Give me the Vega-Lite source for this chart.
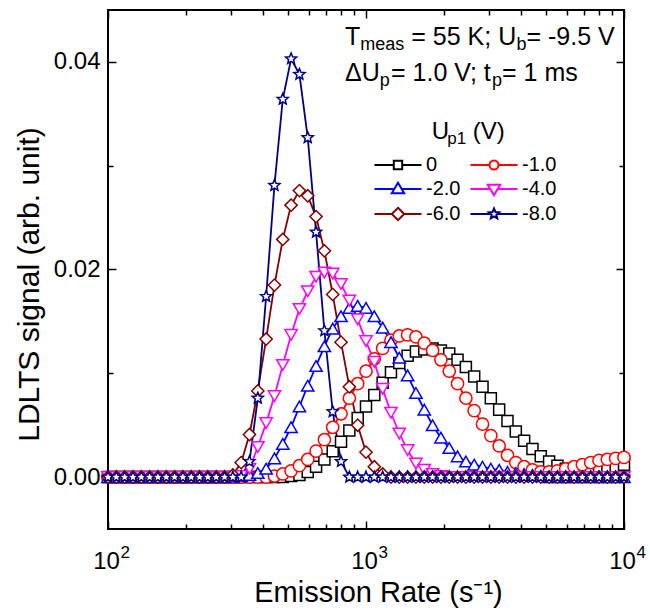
{
"$schema": "https://vega.github.io/schema/vega-lite/v6.json",
"width": 516, "height": 519,
"autosize": {"type": "none"},
"padding": {"left": 108, "top": 10, "right": 26, "bottom": 83},
"background": "white",
"config": {
 "view": {"stroke": "black", "strokeWidth": 2},
 "font": "Liberation Sans",
 "axis": {"grid": false, "domain": false, "labelFont": "Liberation Sans", "titleFont": "Liberation Sans", "labelColor": "black", "titleColor": "black", "tickColor": "black", "tickWidth": 1.5, "titleFontWeight": "normal"},
 "legend": {"orient": "none", "direction": "horizontal", "legendX": 279, "legendY": 144, "columns": 2, "columnPadding": 5, "rowPadding": 3, "padding": 0, "symbolSize": 400, "symbolStrokeWidth": 2, "labelFont": "Liberation Sans", "labelFontSize": 20, "labelColor": "black", "labelOffset": 17, "labelLimit": 0}
},
"datasets": {"curves": [
{"Up":"0","rate":100,"signal":0},{"Up":"0","rate":107.71,"signal":0},{"Up":"0","rate":116.02,"signal":0},{"Up":"0","rate":124.96,"signal":0},{"Up":"0","rate":134.6,"signal":0},{"Up":"0","rate":144.98,"signal":0},{"Up":"0","rate":156.16,"signal":0},{"Up":"0","rate":168.2,"signal":0},{"Up":"0","rate":181.16,"signal":0},{"Up":"0","rate":195.13,"signal":0},{"Up":"0","rate":210.17,"signal":0},{"Up":"0","rate":226.38,"signal":0},{"Up":"0","rate":243.83,"signal":0},{"Up":"0","rate":262.63,"signal":0},{"Up":"0","rate":282.89,"signal":0},{"Up":"0","rate":304.7,"signal":0},{"Up":"0","rate":328.19,"signal":0},{"Up":"0","rate":353.5,"signal":0},{"Up":"0","rate":380.75,"signal":0},{"Up":"0","rate":410.11,"signal":0},{"Up":"0","rate":441.73,"signal":0},{"Up":"0","rate":475.8,"signal":0},{"Up":"0","rate":512.48,"signal":0.0001},{"Up":"0","rate":552,"signal":0.0002},{"Up":"0","rate":594.56,"signal":0.0005},{"Up":"0","rate":640.4,"signal":0.001},{"Up":"0","rate":689.78,"signal":0.0017},{"Up":"0","rate":742.96,"signal":0.0025},{"Up":"0","rate":800.24,"signal":0.0034},{"Up":"0","rate":861.95,"signal":0.0045},{"Up":"0","rate":928.41,"signal":0.0057},{"Up":"0","rate":1000,"signal":0.0068},{"Up":"0","rate":1077.1,"signal":0.0079},{"Up":"0","rate":1160.16,"signal":0.0091},{"Up":"0","rate":1249.61,"signal":0.0101},{"Up":"0","rate":1345.96,"signal":0.011},{"Up":"0","rate":1449.77,"signal":0.0117},{"Up":"0","rate":1561.55,"signal":0.0121},{"Up":"0","rate":1681.95,"signal":0.0123},{"Up":"0","rate":1811.61,"signal":0.0124},{"Up":"0","rate":1951.29,"signal":0.0122},{"Up":"0","rate":2101.74,"signal":0.0119},{"Up":"0","rate":2263.78,"signal":0.0113},{"Up":"0","rate":2438.34,"signal":0.0106},{"Up":"0","rate":2626.34,"signal":0.0097},{"Up":"0","rate":2828.88,"signal":0.0087},{"Up":"0","rate":3047,"signal":0.0076},{"Up":"0","rate":3281.92,"signal":0.0065},{"Up":"0","rate":3534.97,"signal":0.0054},{"Up":"0","rate":3807.53,"signal":0.0044},{"Up":"0","rate":4101.12,"signal":0.0035},{"Up":"0","rate":4417.34,"signal":0.0027},{"Up":"0","rate":4757.95,"signal":0.002},{"Up":"0","rate":5124.8,"signal":0.0015},{"Up":"0","rate":5519.95,"signal":0.0011},{"Up":"0","rate":5945.55,"signal":0.0008},{"Up":"0","rate":6403.98,"signal":0.0006},{"Up":"0","rate":6897.75,"signal":0.0005},{"Up":"0","rate":7429.57,"signal":0.0005},{"Up":"0","rate":8002.43,"signal":0.0006},{"Up":"0","rate":8619.45,"signal":0.0008},{"Up":"0","rate":9284.05,"signal":0.001},{"Up":"0","rate":10000,"signal":0.0012},
{"Up":"-1.0","rate":100,"signal":0},{"Up":"-1.0","rate":107.71,"signal":0},{"Up":"-1.0","rate":116.02,"signal":0},{"Up":"-1.0","rate":124.96,"signal":0},{"Up":"-1.0","rate":134.6,"signal":0},{"Up":"-1.0","rate":144.98,"signal":0},{"Up":"-1.0","rate":156.16,"signal":0},{"Up":"-1.0","rate":168.2,"signal":0},{"Up":"-1.0","rate":181.16,"signal":0},{"Up":"-1.0","rate":195.13,"signal":0},{"Up":"-1.0","rate":210.17,"signal":0},{"Up":"-1.0","rate":226.38,"signal":0},{"Up":"-1.0","rate":243.83,"signal":0},{"Up":"-1.0","rate":262.63,"signal":0},{"Up":"-1.0","rate":282.89,"signal":0},{"Up":"-1.0","rate":304.7,"signal":0},{"Up":"-1.0","rate":328.19,"signal":0},{"Up":"-1.0","rate":353.5,"signal":0},{"Up":"-1.0","rate":380.75,"signal":0},{"Up":"-1.0","rate":410.11,"signal":0},{"Up":"-1.0","rate":441.73,"signal":0.0001},{"Up":"-1.0","rate":475.8,"signal":0.0003},{"Up":"-1.0","rate":512.48,"signal":0.0006},{"Up":"-1.0","rate":552,"signal":0.0011},{"Up":"-1.0","rate":594.56,"signal":0.0017},{"Up":"-1.0","rate":640.4,"signal":0.0025},{"Up":"-1.0","rate":689.78,"signal":0.0036},{"Up":"-1.0","rate":742.96,"signal":0.0048},{"Up":"-1.0","rate":800.24,"signal":0.0061},{"Up":"-1.0","rate":861.95,"signal":0.0076},{"Up":"-1.0","rate":928.41,"signal":0.009},{"Up":"-1.0","rate":1000,"signal":0.0102},{"Up":"-1.0","rate":1077.1,"signal":0.0114},{"Up":"-1.0","rate":1160.16,"signal":0.0124},{"Up":"-1.0","rate":1249.61,"signal":0.0132},{"Up":"-1.0","rate":1345.96,"signal":0.0136},{"Up":"-1.0","rate":1449.77,"signal":0.0137},{"Up":"-1.0","rate":1561.55,"signal":0.0135},{"Up":"-1.0","rate":1681.95,"signal":0.0129},{"Up":"-1.0","rate":1811.61,"signal":0.0122},{"Up":"-1.0","rate":1951.29,"signal":0.0113},{"Up":"-1.0","rate":2101.74,"signal":0.0102},{"Up":"-1.0","rate":2263.78,"signal":0.009},{"Up":"-1.0","rate":2438.34,"signal":0.0076},{"Up":"-1.0","rate":2626.34,"signal":0.0064},{"Up":"-1.0","rate":2828.88,"signal":0.0051},{"Up":"-1.0","rate":3047,"signal":0.004},{"Up":"-1.0","rate":3281.92,"signal":0.003},{"Up":"-1.0","rate":3534.97,"signal":0.0021},{"Up":"-1.0","rate":3807.53,"signal":0.0014},{"Up":"-1.0","rate":4101.12,"signal":0.001},{"Up":"-1.0","rate":4417.34,"signal":0.0007},{"Up":"-1.0","rate":4757.95,"signal":0.0005},{"Up":"-1.0","rate":5124.8,"signal":0.0005},{"Up":"-1.0","rate":5519.95,"signal":0.0006},{"Up":"-1.0","rate":5945.55,"signal":0.0008},{"Up":"-1.0","rate":6403.98,"signal":0.001},{"Up":"-1.0","rate":6897.75,"signal":0.0012},{"Up":"-1.0","rate":7429.57,"signal":0.0014},{"Up":"-1.0","rate":8002.43,"signal":0.0016},{"Up":"-1.0","rate":8619.45,"signal":0.0017},{"Up":"-1.0","rate":9284.05,"signal":0.0018},{"Up":"-1.0","rate":10000,"signal":0.0019},
{"Up":"-2.0","rate":100,"signal":0},{"Up":"-2.0","rate":107.71,"signal":0},{"Up":"-2.0","rate":116.02,"signal":0},{"Up":"-2.0","rate":124.96,"signal":0},{"Up":"-2.0","rate":134.6,"signal":0},{"Up":"-2.0","rate":144.98,"signal":0},{"Up":"-2.0","rate":156.16,"signal":0},{"Up":"-2.0","rate":168.2,"signal":0},{"Up":"-2.0","rate":181.16,"signal":0},{"Up":"-2.0","rate":195.13,"signal":0},{"Up":"-2.0","rate":210.17,"signal":0},{"Up":"-2.0","rate":226.38,"signal":0},{"Up":"-2.0","rate":243.83,"signal":0},{"Up":"-2.0","rate":262.63,"signal":0},{"Up":"-2.0","rate":282.89,"signal":0},{"Up":"-2.0","rate":304.7,"signal":0},{"Up":"-2.0","rate":328.19,"signal":0.0001},{"Up":"-2.0","rate":353.5,"signal":0.0002},{"Up":"-2.0","rate":380.75,"signal":0.0004},{"Up":"-2.0","rate":410.11,"signal":0.0008},{"Up":"-2.0","rate":441.73,"signal":0.0018},{"Up":"-2.0","rate":475.8,"signal":0.0032},{"Up":"-2.0","rate":512.48,"signal":0.0048},{"Up":"-2.0","rate":552,"signal":0.0068},{"Up":"-2.0","rate":594.56,"signal":0.0088},{"Up":"-2.0","rate":640.4,"signal":0.0107},{"Up":"-2.0","rate":689.78,"signal":0.0126},{"Up":"-2.0","rate":742.96,"signal":0.0143},{"Up":"-2.0","rate":800.24,"signal":0.0155},{"Up":"-2.0","rate":861.95,"signal":0.0163},{"Up":"-2.0","rate":928.41,"signal":0.0165},{"Up":"-2.0","rate":1000,"signal":0.0163},{"Up":"-2.0","rate":1077.1,"signal":0.0155},{"Up":"-2.0","rate":1160.16,"signal":0.0144},{"Up":"-2.0","rate":1249.61,"signal":0.013},{"Up":"-2.0","rate":1345.96,"signal":0.0115},{"Up":"-2.0","rate":1449.77,"signal":0.0098},{"Up":"-2.0","rate":1561.55,"signal":0.0081},{"Up":"-2.0","rate":1681.95,"signal":0.0065},{"Up":"-2.0","rate":1811.61,"signal":0.005},{"Up":"-2.0","rate":1951.29,"signal":0.0038},{"Up":"-2.0","rate":2101.74,"signal":0.0028},{"Up":"-2.0","rate":2263.78,"signal":0.002},{"Up":"-2.0","rate":2438.34,"signal":0.0015},{"Up":"-2.0","rate":2626.34,"signal":0.0012},{"Up":"-2.0","rate":2828.88,"signal":0.001},{"Up":"-2.0","rate":3047,"signal":0.0008},{"Up":"-2.0","rate":3281.92,"signal":0.0007},{"Up":"-2.0","rate":3534.97,"signal":0.0005},{"Up":"-2.0","rate":3807.53,"signal":0.0004},{"Up":"-2.0","rate":4101.12,"signal":0.0003},{"Up":"-2.0","rate":4417.34,"signal":0.0002},{"Up":"-2.0","rate":4757.95,"signal":0.0001},{"Up":"-2.0","rate":5124.8,"signal":0},{"Up":"-2.0","rate":5519.95,"signal":0},{"Up":"-2.0","rate":5945.55,"signal":0},{"Up":"-2.0","rate":6403.98,"signal":0},{"Up":"-2.0","rate":6897.75,"signal":0},{"Up":"-2.0","rate":7429.57,"signal":0},{"Up":"-2.0","rate":8002.43,"signal":0},{"Up":"-2.0","rate":8619.45,"signal":0},{"Up":"-2.0","rate":9284.05,"signal":0},{"Up":"-2.0","rate":10000,"signal":0},
{"Up":"-4.0","rate":100,"signal":0},{"Up":"-4.0","rate":107.71,"signal":0},{"Up":"-4.0","rate":116.02,"signal":0},{"Up":"-4.0","rate":124.96,"signal":0},{"Up":"-4.0","rate":134.6,"signal":0},{"Up":"-4.0","rate":144.98,"signal":0},{"Up":"-4.0","rate":156.16,"signal":0},{"Up":"-4.0","rate":168.2,"signal":0},{"Up":"-4.0","rate":181.16,"signal":0},{"Up":"-4.0","rate":195.13,"signal":0},{"Up":"-4.0","rate":210.17,"signal":0},{"Up":"-4.0","rate":226.38,"signal":0},{"Up":"-4.0","rate":243.83,"signal":0},{"Up":"-4.0","rate":262.63,"signal":0},{"Up":"-4.0","rate":282.89,"signal":0},{"Up":"-4.0","rate":304.7,"signal":0},{"Up":"-4.0","rate":328.19,"signal":0.0001},{"Up":"-4.0","rate":353.5,"signal":0.0008},{"Up":"-4.0","rate":380.75,"signal":0.0029},{"Up":"-4.0","rate":410.11,"signal":0.0052},{"Up":"-4.0","rate":441.73,"signal":0.0078},{"Up":"-4.0","rate":475.8,"signal":0.0108},{"Up":"-4.0","rate":512.48,"signal":0.0137},{"Up":"-4.0","rate":552,"signal":0.0162},{"Up":"-4.0","rate":594.56,"signal":0.0179},{"Up":"-4.0","rate":640.4,"signal":0.0193},{"Up":"-4.0","rate":689.78,"signal":0.0197},{"Up":"-4.0","rate":742.96,"signal":0.0196},{"Up":"-4.0","rate":800.24,"signal":0.0186},{"Up":"-4.0","rate":861.95,"signal":0.017},{"Up":"-4.0","rate":928.41,"signal":0.0152},{"Up":"-4.0","rate":1000,"signal":0.0131},{"Up":"-4.0","rate":1077.1,"signal":0.0111},{"Up":"-4.0","rate":1160.16,"signal":0.0085},{"Up":"-4.0","rate":1249.61,"signal":0.0062},{"Up":"-4.0","rate":1345.96,"signal":0.0042},{"Up":"-4.0","rate":1449.77,"signal":0.0026},{"Up":"-4.0","rate":1561.55,"signal":0.0013},{"Up":"-4.0","rate":1681.95,"signal":0.0007},{"Up":"-4.0","rate":1811.61,"signal":0.0003},{"Up":"-4.0","rate":1951.29,"signal":0.0001},{"Up":"-4.0","rate":2101.74,"signal":0},{"Up":"-4.0","rate":2263.78,"signal":0},{"Up":"-4.0","rate":2438.34,"signal":0},{"Up":"-4.0","rate":2626.34,"signal":0},{"Up":"-4.0","rate":2828.88,"signal":0},{"Up":"-4.0","rate":3047,"signal":0},{"Up":"-4.0","rate":3281.92,"signal":0},{"Up":"-4.0","rate":3534.97,"signal":0},{"Up":"-4.0","rate":3807.53,"signal":0},{"Up":"-4.0","rate":4101.12,"signal":0},{"Up":"-4.0","rate":4417.34,"signal":0},{"Up":"-4.0","rate":4757.95,"signal":0},{"Up":"-4.0","rate":5124.8,"signal":0},{"Up":"-4.0","rate":5519.95,"signal":0},{"Up":"-4.0","rate":5945.55,"signal":0},{"Up":"-4.0","rate":6403.98,"signal":0},{"Up":"-4.0","rate":6897.75,"signal":0},{"Up":"-4.0","rate":7429.57,"signal":0},{"Up":"-4.0","rate":8002.43,"signal":0},{"Up":"-4.0","rate":8619.45,"signal":0},{"Up":"-4.0","rate":9284.05,"signal":0},{"Up":"-4.0","rate":10000,"signal":0},
{"Up":"-6.0","rate":100,"signal":0},{"Up":"-6.0","rate":107.71,"signal":0},{"Up":"-6.0","rate":116.02,"signal":0},{"Up":"-6.0","rate":124.96,"signal":0},{"Up":"-6.0","rate":134.6,"signal":0},{"Up":"-6.0","rate":144.98,"signal":0},{"Up":"-6.0","rate":156.16,"signal":0},{"Up":"-6.0","rate":168.2,"signal":0},{"Up":"-6.0","rate":181.16,"signal":0},{"Up":"-6.0","rate":195.13,"signal":0},{"Up":"-6.0","rate":210.17,"signal":0},{"Up":"-6.0","rate":226.38,"signal":0},{"Up":"-6.0","rate":243.83,"signal":0},{"Up":"-6.0","rate":262.63,"signal":0},{"Up":"-6.0","rate":282.89,"signal":0},{"Up":"-6.0","rate":304.7,"signal":0.0002},{"Up":"-6.0","rate":328.19,"signal":0.0014},{"Up":"-6.0","rate":353.5,"signal":0.0041},{"Up":"-6.0","rate":380.75,"signal":0.0083},{"Up":"-6.0","rate":410.11,"signal":0.0133},{"Up":"-6.0","rate":441.73,"signal":0.0185},{"Up":"-6.0","rate":475.8,"signal":0.0229},{"Up":"-6.0","rate":512.48,"signal":0.0262},{"Up":"-6.0","rate":552,"signal":0.0276},{"Up":"-6.0","rate":594.56,"signal":0.0271},{"Up":"-6.0","rate":640.4,"signal":0.0251},{"Up":"-6.0","rate":689.78,"signal":0.0218},{"Up":"-6.0","rate":742.96,"signal":0.0176},{"Up":"-6.0","rate":800.24,"signal":0.013},{"Up":"-6.0","rate":861.95,"signal":0.0087},{"Up":"-6.0","rate":928.41,"signal":0.005},{"Up":"-6.0","rate":1000,"signal":0.0024},{"Up":"-6.0","rate":1077.1,"signal":0.001},{"Up":"-6.0","rate":1160.16,"signal":0.0003},{"Up":"-6.0","rate":1249.61,"signal":0},{"Up":"-6.0","rate":1345.96,"signal":0},{"Up":"-6.0","rate":1449.77,"signal":0},{"Up":"-6.0","rate":1561.55,"signal":0},{"Up":"-6.0","rate":1681.95,"signal":0},{"Up":"-6.0","rate":1811.61,"signal":0},{"Up":"-6.0","rate":1951.29,"signal":0},{"Up":"-6.0","rate":2101.74,"signal":0},{"Up":"-6.0","rate":2263.78,"signal":0},{"Up":"-6.0","rate":2438.34,"signal":0},{"Up":"-6.0","rate":2626.34,"signal":0},{"Up":"-6.0","rate":2828.88,"signal":0},{"Up":"-6.0","rate":3047,"signal":0},{"Up":"-6.0","rate":3281.92,"signal":0},{"Up":"-6.0","rate":3534.97,"signal":0},{"Up":"-6.0","rate":3807.53,"signal":0},{"Up":"-6.0","rate":4101.12,"signal":0},{"Up":"-6.0","rate":4417.34,"signal":0},{"Up":"-6.0","rate":4757.95,"signal":0},{"Up":"-6.0","rate":5124.8,"signal":0},{"Up":"-6.0","rate":5519.95,"signal":0},{"Up":"-6.0","rate":5945.55,"signal":0},{"Up":"-6.0","rate":6403.98,"signal":0},{"Up":"-6.0","rate":6897.75,"signal":0},{"Up":"-6.0","rate":7429.57,"signal":0},{"Up":"-6.0","rate":8002.43,"signal":0},{"Up":"-6.0","rate":8619.45,"signal":0},{"Up":"-6.0","rate":9284.05,"signal":0},{"Up":"-6.0","rate":10000,"signal":0},
{"Up":"-8.0","rate":100,"signal":0},{"Up":"-8.0","rate":107.71,"signal":0},{"Up":"-8.0","rate":116.02,"signal":0},{"Up":"-8.0","rate":124.96,"signal":0},{"Up":"-8.0","rate":134.6,"signal":0},{"Up":"-8.0","rate":144.98,"signal":0},{"Up":"-8.0","rate":156.16,"signal":0},{"Up":"-8.0","rate":168.2,"signal":0},{"Up":"-8.0","rate":181.16,"signal":0},{"Up":"-8.0","rate":195.13,"signal":0},{"Up":"-8.0","rate":210.17,"signal":0},{"Up":"-8.0","rate":226.38,"signal":0},{"Up":"-8.0","rate":243.83,"signal":0},{"Up":"-8.0","rate":262.63,"signal":0},{"Up":"-8.0","rate":282.89,"signal":0},{"Up":"-8.0","rate":304.7,"signal":0},{"Up":"-8.0","rate":328.19,"signal":0},{"Up":"-8.0","rate":353.5,"signal":0.0015},{"Up":"-8.0","rate":380.75,"signal":0.0076},{"Up":"-8.0","rate":410.11,"signal":0.0174},{"Up":"-8.0","rate":441.73,"signal":0.0281},{"Up":"-8.0","rate":475.8,"signal":0.0364},{"Up":"-8.0","rate":512.48,"signal":0.0403},{"Up":"-8.0","rate":552,"signal":0.0388},{"Up":"-8.0","rate":594.56,"signal":0.0327},{"Up":"-8.0","rate":640.4,"signal":0.0236},{"Up":"-8.0","rate":689.78,"signal":0.0141},{"Up":"-8.0","rate":742.96,"signal":0.0063},{"Up":"-8.0","rate":800.24,"signal":0.0015},{"Up":"-8.0","rate":861.95,"signal":0},{"Up":"-8.0","rate":928.41,"signal":0},{"Up":"-8.0","rate":1000,"signal":0},{"Up":"-8.0","rate":1077.1,"signal":0},{"Up":"-8.0","rate":1160.16,"signal":0},{"Up":"-8.0","rate":1249.61,"signal":0},{"Up":"-8.0","rate":1345.96,"signal":0},{"Up":"-8.0","rate":1449.77,"signal":0},{"Up":"-8.0","rate":1561.55,"signal":0},{"Up":"-8.0","rate":1681.95,"signal":0},{"Up":"-8.0","rate":1811.61,"signal":0},{"Up":"-8.0","rate":1951.29,"signal":0},{"Up":"-8.0","rate":2101.74,"signal":0},{"Up":"-8.0","rate":2263.78,"signal":0},{"Up":"-8.0","rate":2438.34,"signal":0},{"Up":"-8.0","rate":2626.34,"signal":0},{"Up":"-8.0","rate":2828.88,"signal":0},{"Up":"-8.0","rate":3047,"signal":0},{"Up":"-8.0","rate":3281.92,"signal":0},{"Up":"-8.0","rate":3534.97,"signal":0},{"Up":"-8.0","rate":3807.53,"signal":0},{"Up":"-8.0","rate":4101.12,"signal":0},{"Up":"-8.0","rate":4417.34,"signal":0},{"Up":"-8.0","rate":4757.95,"signal":0},{"Up":"-8.0","rate":5124.8,"signal":0},{"Up":"-8.0","rate":5519.95,"signal":0},{"Up":"-8.0","rate":5945.55,"signal":0},{"Up":"-8.0","rate":6403.98,"signal":0},{"Up":"-8.0","rate":6897.75,"signal":0},{"Up":"-8.0","rate":7429.57,"signal":0},{"Up":"-8.0","rate":8002.43,"signal":0},{"Up":"-8.0","rate":8619.45,"signal":0},{"Up":"-8.0","rate":9284.05,"signal":0},{"Up":"-8.0","rate":10000,"signal":0}
]},
"layer": [
 {
  "data": {"name": "curves"},
  "mark": {"type": "line", "strokeWidth": 1.8},
  "encoding": {
   "x": {"field": "rate", "type": "quantitative", "scale": {"type": "log", "domain": [100, 10000], "nice": false},
    "axis": {"orient": "bottom", "values": [100, 1000, 10000], "labelExpr": "'10'", "labelFlush": false, "labelOverlap": false, "labelFontSize": 24, "labelBaseline": "alphabetic", "labelPadding": 39, "labelOffset": -2, "ticks": false, "title": "Emission Rate (s⁻¹)", "titleFontSize": 29, "titleX": 270, "titleY": 72, "titleAlign": "center", "titleBaseline": "alphabetic"}},
   "y": {"field": "signal", "type": "quantitative", "scale": {"domain": [-0.005, 0.045], "nice": false, "zero": false},
    "axis": {"orient": "left", "values": [0, 0.02, 0.04], "format": ".2f", "labelFontSize": 24, "labelPadding": 8, "ticks": false, "title": "LDLTS signal (arb. unit)", "titleFontSize": 30, "titleX": -70, "titleY": 274, "titleAngle": -90, "titleAlign": "center", "titleBaseline": "alphabetic"}},
   "color": {"field": "Up", "type": "nominal", "scale": {"domain": ["0", "-1.0", "-2.0", "-4.0", "-6.0", "-8.0"], "range": ["#000000", "#ff0000", "#0000ff", "#ff00ff", "#800000", "#000080"]}}
  }
 },
 {
  "data": {"values": [{"Up": "0"}, {"Up": "-1.0"}, {"Up": "-2.0"}, {"Up": "-4.0"}, {"Up": "-6.0"}, {"Up": "-8.0"}]},
  "mark": {"type": "point", "filled": false, "opacity": 1, "strokeWidth": 2, "size": 0},
  "encoding": {
   "x": {"datum": 1000, "type": "quantitative", "scale": {"type": "log"}, "axis": {"orient": "top", "values": [100, 1000, 10000], "labels": false, "tickSize": -8, "title": null}},
   "y": {"datum": 0, "type": "quantitative", "axis": {"orient": "right", "values": [0, 0.02, 0.04], "labels": false, "tickSize": -8, "title": null}},
   "color": {"field": "Up", "type": "nominal", "scale": {"domain": ["0", "-1.0", "-2.0", "-4.0", "-6.0", "-8.0"], "range": ["#000000", "#ff0000", "#0000ff", "#ff00ff", "#800000", "#000080"]}, "legend": {"title": null}},
   "shape": {"field": "Up", "type": "nominal", "scale": {"domain": ["0", "-1.0", "-2.0", "-4.0", "-6.0", "-8.0"], "range": ["M-2.35,0H-0.42M0.42,0H2.35M-0.42,-0.42H0.42V0.42H-0.42Z", "M-2.35,0H-0.45M0.45,0H2.35M0.45,0A0.45,0.45,0,1,1,-0.45,0A0.45,0.45,0,1,1,0.45,0Z", "M-2.35,0H-0.37M0.37,0H2.35M0,-0.62L0.62,0.42H-0.62Z", "M-2.35,0H-0.37M0.37,0H2.35M0,0.62L0.62,-0.42H-0.62Z", "M-2.35,0H-0.62M0.62,0H2.35M0,-0.62L0.62,0L0,0.62L-0.62,0Z", "M-2.35,0H-0.3M0.3,0H2.35M0,-0.55L0.146,-0.2L0.523,-0.17L0.235,0.076L0.323,0.445L0,0.248L-0.323,0.445L-0.235,0.076L-0.523,-0.17L-0.146,-0.2Z"]}, "legend": {"title": null}}
  }
 },
 {
  "data": {"name": "curves"},
  "transform": [{"filter": "datum.Up === '0'"}],
  "mark": {"type": "point", "shape": "M-0.9,-0.9H0.9V0.9H-0.9Z", "filled": false, "fill": "white", "opacity": 1, "strokeWidth": 1.5, "size": 150},
  "encoding": {
   "x": {"field": "rate", "type": "quantitative", "scale": {"type": "log"}, "axis": null},
   "y": {"field": "signal", "type": "quantitative", "axis": null},
   "color": {"field": "Up", "type": "nominal", "scale": {"domain": ["0", "-1.0", "-2.0", "-4.0", "-6.0", "-8.0"], "range": ["#000000", "#ff0000", "#0000ff", "#ff00ff", "#800000", "#000080"]}}
  }
 },
 {
  "data": {"name": "curves"},
  "transform": [{"filter": "datum.Up === '-1.0'"}],
  "mark": {"type": "point", "shape": "circle", "filled": false, "fill": "white", "opacity": 1, "strokeWidth": 1.5, "size": 150},
  "encoding": {
   "x": {"field": "rate", "type": "quantitative", "scale": {"type": "log"}, "axis": null},
   "y": {"field": "signal", "type": "quantitative", "axis": null},
   "color": {"field": "Up", "type": "nominal", "scale": {"domain": ["0", "-1.0", "-2.0", "-4.0", "-6.0", "-8.0"], "range": ["#000000", "#ff0000", "#0000ff", "#ff00ff", "#800000", "#000080"]}}
  }
 },
 {
  "data": {"name": "curves"},
  "transform": [{"filter": "datum.Up === '-2.0'"}],
  "mark": {"type": "point", "shape": "triangle-up", "filled": false, "fill": "white", "opacity": 1, "strokeWidth": 1.5, "size": 150},
  "encoding": {
   "x": {"field": "rate", "type": "quantitative", "scale": {"type": "log"}, "axis": null},
   "y": {"field": "signal", "type": "quantitative", "axis": null},
   "color": {"field": "Up", "type": "nominal", "scale": {"domain": ["0", "-1.0", "-2.0", "-4.0", "-6.0", "-8.0"], "range": ["#000000", "#ff0000", "#0000ff", "#ff00ff", "#800000", "#000080"]}}
  }
 },
 {
  "data": {"name": "curves"},
  "transform": [{"filter": "datum.Up === '-4.0'"}],
  "mark": {"type": "point", "shape": "triangle-down", "filled": false, "fill": "white", "opacity": 1, "strokeWidth": 1.5, "size": 150},
  "encoding": {
   "x": {"field": "rate", "type": "quantitative", "scale": {"type": "log"}, "axis": null},
   "y": {"field": "signal", "type": "quantitative", "axis": null},
   "color": {"field": "Up", "type": "nominal", "scale": {"domain": ["0", "-1.0", "-2.0", "-4.0", "-6.0", "-8.0"], "range": ["#000000", "#ff0000", "#0000ff", "#ff00ff", "#800000", "#000080"]}}
  }
 },
 {
  "data": {"name": "curves"},
  "transform": [{"filter": "datum.Up === '-6.0'"}],
  "mark": {"type": "point", "shape": "diamond", "filled": false, "fill": "white", "opacity": 1, "strokeWidth": 1.5, "size": 150},
  "encoding": {
   "x": {"field": "rate", "type": "quantitative", "scale": {"type": "log"}, "axis": null},
   "y": {"field": "signal", "type": "quantitative", "axis": null},
   "color": {"field": "Up", "type": "nominal", "scale": {"domain": ["0", "-1.0", "-2.0", "-4.0", "-6.0", "-8.0"], "range": ["#000000", "#ff0000", "#0000ff", "#ff00ff", "#800000", "#000080"]}}
  }
 },
 {
  "data": {"name": "curves"},
  "transform": [{"filter": "datum.Up === '-8.0'"}],
  "mark": {"type": "point", "shape": "M0,-0.95L0.251,-0.345L0.903,-0.294L0.407,0.132L0.559,0.769L0,0.428L-0.559,0.769L-0.407,0.132L-0.903,-0.294L-0.251,-0.345Z", "filled": false, "fill": "white", "opacity": 1, "strokeWidth": 1.5, "size": 150},
  "encoding": {
   "x": {"field": "rate", "type": "quantitative", "scale": {"type": "log"}, "axis": null},
   "y": {"field": "signal", "type": "quantitative", "axis": null},
   "color": {"field": "Up", "type": "nominal", "scale": {"domain": ["0", "-1.0", "-2.0", "-4.0", "-6.0", "-8.0"], "range": ["#000000", "#ff0000", "#0000ff", "#ff00ff", "#800000", "#000080"]}}
  }
 },
 {
  "data": {"values": [{}]},
  "mark": {"type": "text", "text": "T", "fontSize": 25, "align": "left", "baseline": "alphabetic", "color": "black"},
  "encoding": {
   "x": {"datum": 829, "type": "quantitative", "scale": {"type": "log"}, "axis": {"orient": "bottom", "values": [100, 1000, 10000], "labels": false, "tickSize": -8, "title": null}},
   "y": {"datum": 0.04164, "type": "quantitative", "axis": {"orient": "left", "values": [0, 0.02, 0.04], "labels": false, "tickSize": -8, "title": null}}
  }
 },
 {
  "data": {"values": [{}]},
  "mark": {"type": "text", "text": "meas", "fontSize": 18, "align": "left", "baseline": "alphabetic", "dx": 15.3, "dy": 5, "color": "black"},
  "encoding": {
   "x": {"datum": 829, "type": "quantitative", "scale": {"type": "log"}, "axis": {"orient": "bottom", "values": [200, 300, 400, 500, 600, 700, 800, 900, 2000, 3000, 4000, 5000, 6000, 7000, 8000, 9000], "labels": false, "tickSize": -5, "title": null}},
   "y": {"datum": 0.04164, "type": "quantitative", "axis": {"orient": "left", "values": [0.01, 0.03], "labels": false, "tickSize": -5, "title": null}}
  }
 },
 {
  "data": {"values": [{}]},
  "mark": {"type": "text", "text": "= 55 K; U", "fontSize": 25, "align": "left", "baseline": "alphabetic", "dx": 66.3, "color": "black"},
  "encoding": {
   "x": {"datum": 829, "type": "quantitative", "scale": {"type": "log"}, "axis": {"orient": "top", "values": [200, 300, 400, 500, 600, 700, 800, 900, 2000, 3000, 4000, 5000, 6000, 7000, 8000, 9000], "labels": false, "tickSize": -5, "title": null}},
   "y": {"datum": 0.04164, "type": "quantitative", "axis": {"orient": "right", "values": [0.01, 0.03], "labels": false, "tickSize": -5, "title": null}}
  }
 },
 {
  "data": {"values": [{}]},
  "mark": {"type": "text", "text": "b", "fontSize": 18, "align": "left", "baseline": "alphabetic", "dx": 171.5, "dy": 5, "color": "black"},
  "encoding": {
   "x": {"datum": 829, "type": "quantitative", "scale": {"type": "log"}, "axis": {"orient": "bottom", "values": [100, 1000, 10000], "labelExpr": "datum.value == 100 ? '2' : datum.value == 1000 ? '3' : '4'", "labelFlush": false, "labelOverlap": false, "labelFontSize": 17, "labelBaseline": "alphabetic", "labelAlign": "left", "labelPadding": 28, "labelOffset": 12, "ticks": false, "title": null}},
   "y": {"datum": 0.04164, "type": "quantitative", "axis": null}
  }
 },
 {
  "data": {"values": [{}]},
  "mark": {"type": "text", "text": "= -9.5 V", "fontSize": 25, "align": "left", "baseline": "alphabetic", "dx": 181.5, "color": "black"},
  "encoding": {"x": {"datum": 829, "type": "quantitative", "scale": {"type": "log"}, "axis": null}, "y": {"datum": 0.04164, "type": "quantitative", "axis": null}}
 },
 {
  "data": {"values": [{}]},
  "mark": {"type": "text", "text": "ΔU", "fontSize": 25, "align": "left", "baseline": "alphabetic", "color": "black"},
  "encoding": {"x": {"datum": 829, "type": "quantitative", "scale": {"type": "log"}, "axis": null}, "y": {"datum": 0.03817, "type": "quantitative", "axis": null}}
 },
 {
  "data": {"values": [{}]},
  "mark": {"type": "text", "text": "p", "fontSize": 18, "align": "left", "baseline": "alphabetic", "dx": 34.8, "dy": 5, "color": "black"},
  "encoding": {"x": {"datum": 829, "type": "quantitative", "scale": {"type": "log"}, "axis": null}, "y": {"datum": 0.03817, "type": "quantitative", "axis": null}}
 },
 {
  "data": {"values": [{}]},
  "mark": {"type": "text", "text": "= 1.0 V; t", "fontSize": 25, "align": "left", "baseline": "alphabetic", "dx": 46, "color": "black"},
  "encoding": {"x": {"datum": 829, "type": "quantitative", "scale": {"type": "log"}, "axis": null}, "y": {"datum": 0.03817, "type": "quantitative", "axis": null}}
 },
 {
  "data": {"values": [{}]},
  "mark": {"type": "text", "text": "p", "fontSize": 18, "align": "left", "baseline": "alphabetic", "dx": 147, "dy": 5, "color": "black"},
  "encoding": {"x": {"datum": 829, "type": "quantitative", "scale": {"type": "log"}, "axis": null}, "y": {"datum": 0.03817, "type": "quantitative", "axis": null}}
 },
 {
  "data": {"values": [{}]},
  "mark": {"type": "text", "text": "= 1 ms", "fontSize": 25, "align": "left", "baseline": "alphabetic", "dx": 157, "color": "black"},
  "encoding": {"x": {"datum": 829, "type": "quantitative", "scale": {"type": "log"}, "axis": null}, "y": {"datum": 0.03817, "type": "quantitative", "axis": null}}
 },
 {
  "data": {"values": [{}]},
  "mark": {"type": "text", "text": "U", "fontSize": 24, "align": "left", "baseline": "alphabetic", "color": "black"},
  "encoding": {"x": {"datum": 1798, "type": "quantitative", "scale": {"type": "log"}, "axis": null}, "y": {"datum": 0.03258, "type": "quantitative", "axis": null}}
 },
 {
  "data": {"values": [{}]},
  "mark": {"type": "text", "text": "p1", "fontSize": 17, "align": "left", "baseline": "alphabetic", "dx": 15.5, "dy": 5, "color": "black"},
  "encoding": {"x": {"datum": 1798, "type": "quantitative", "scale": {"type": "log"}, "axis": null}, "y": {"datum": 0.03258, "type": "quantitative", "axis": null}}
 },
 {
  "data": {"values": [{}]},
  "mark": {"type": "text", "text": "(V)", "fontSize": 24, "align": "left", "baseline": "alphabetic", "dx": 41, "color": "black"},
  "encoding": {"x": {"datum": 1798, "type": "quantitative", "scale": {"type": "log"}, "axis": null}, "y": {"datum": 0.03258, "type": "quantitative", "axis": null}}
 }
]
}
